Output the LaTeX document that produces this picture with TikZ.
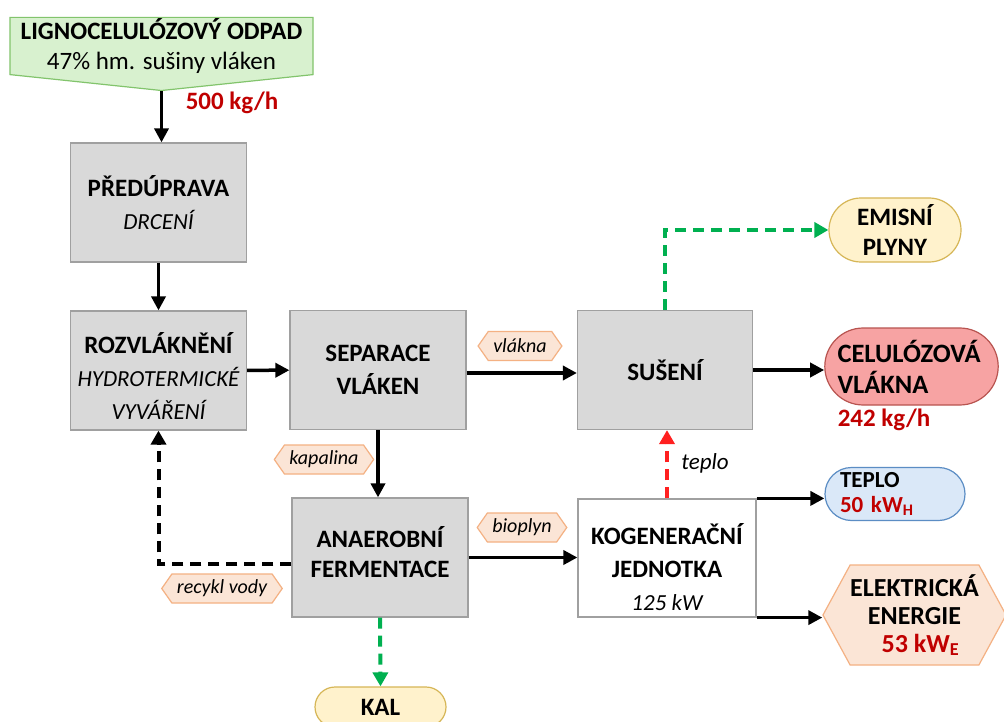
\documentclass[tikz,border=0pt]{standalone}
\usepackage{fontspec}
\setmainfont{Carlito}
\usetikzlibrary{shapes.misc,shapes.symbols,arrows.meta}
\definecolor{boxfill}{HTML}{D9D9D9}
\definecolor{boxdraw}{HTML}{A0A0A0}
\definecolor{srcfill}{HTML}{D8F1CF}
\definecolor{srcdraw}{HTML}{82C46C}
\definecolor{yelfill}{HTML}{FFF2CC}
\definecolor{yeldraw}{HTML}{D6B656}
\definecolor{redfill}{HTML}{F7A3A3}
\definecolor{reddraw}{HTML}{B85450}
\definecolor{bluefill}{HTML}{DAE8F8}
\definecolor{bluedraw}{HTML}{5B8DC4}
\definecolor{peachfill}{HTML}{FBE5D6}
\definecolor{peachdraw}{HTML}{F4B183}
\definecolor{valred}{HTML}{C00000}
\definecolor{greenarr}{HTML}{00B050}
\definecolor{redarr}{HTML}{FF2020}
\begin{document}
\begin{tikzpicture}[x=1pt,y=-1pt,
  proc/.style={rectangle,draw=boxdraw,line width=1.2pt,fill=boxfill,
    minimum width=176pt,minimum height=119pt,align=center,inner sep=0pt,
    font=\bfseries\fontsize{25}{33}\selectfont},
  term/.style={rounded rectangle,line width=1.2pt,inner sep=2pt,
    font=\bfseries\fontsize{25}{30}\selectfont},
  lbl/.style={signal,signal to=west and east,signal pointer angle=110,
    draw=peachdraw,fill=peachfill,line width=1.2pt,minimum height=29pt,
    inner xsep=5pt,inner ysep=1pt,font=\itshape\fontsize{20}{23}\selectfont},
  arr/.style={line width=3.5pt,-{Triangle[length=14pt,width=14pt]}},
  darr/.style={line width=4pt,dash pattern=on 11pt off 7pt,
    -{Triangle[length=14pt,width=15pt]}},
  val/.style={text=valred,font=\bfseries\fontsize{25}{30}\selectfont}]
\useasboundingbox[fill=white] (0,0) rectangle (1004,722);

% source
\node[signal,signal to=south,signal from=nowhere,signal pointer angle=168,
  draw=srcdraw,fill=srcfill,line width=1.2pt,minimum width=303pt,minimum height=72pt,
  align=center,inner sep=0pt,font=\fontsize{25}{30}\selectfont]
  (src) at (161.5,46) {\textbf{LIGNOCELULÓZOVÝ ODPAD}\\47\% hm. sušiny vláken};

% process boxes
\node[proc] (pred) at (158.5,202.5) {PŘEDÚPRAVA\\{\mdseries\itshape\fontsize{23}{33}\selectfont DRCENÍ}};
\node[proc] (rozv) at (158.5,370.5) {\rule{0pt}{32pt}ROZVLÁKNĚNÍ\\{\mdseries\itshape\fontsize{23}{30}\selectfont HYDROTERMICKÉ}\\{\mdseries\itshape\fontsize{23}{30}\selectfont VYVÁŘENÍ}};
\node[proc] (sep) at (378,370) {SEPARACE\\VLÁKEN};
\node[proc,minimum width=175pt] (sus) at (665,370) {SUŠENÍ};
\node[proc,font=\bfseries\fontsize{25}{30}\selectfont] (ana) at (380,557.5) {ANAEROBNÍ\\FERMENTACE\rule[-12pt]{0pt}{0pt}};
\node[proc,fill=white,minimum width=178pt,minimum height=118pt] (kog) at (667,558)
  {\rule{0pt}{40pt}KOGENERAČNÍ\\JEDNOTKA\\{\mdseries\itshape\fontsize{23}{31}\selectfont 125 kW}};

% terminals
\node[term,draw=yeldraw,fill=yelfill,minimum width=136pt,minimum height=64pt,align=center]
  (emis) at (895,230) {EMISNÍ\\PLYNY};
\node[term,draw=reddraw,fill=redfill,minimum width=173pt,minimum height=77pt,
  text width=148pt,align=left,font=\bfseries\fontsize{26.5}{31}\selectfont]
  (cel) at (911.5,366.5) {CELULÓZOVÁ\\VLÁKNA};
\node[term,draw=bluedraw,fill=bluefill,minimum width=144pt,minimum height=53pt,
  text width=110pt,align=left,font=\bfseries\fontsize{23}{25}\selectfont]
  (tep) at (895,494) {TEPLO\\{\color{valred}50 kW\textsubscript{H}}};
\node[signal,signal to=west and east,signal pointer angle=123,draw=peachdraw,fill=peachfill,
  line width=1.2pt,minimum width=183pt,minimum height=100pt,inner sep=0pt,align=center,
  font=\bfseries\fontsize{26}{28}\selectfont]
  (elek) at (914.5,615) {ELEKTRICKÁ\\ENERGIE\\\hspace*{12pt}{\color{valred}53 kW\textsubscript{E}}};
\node[term,draw=yeldraw,fill=yelfill,minimum width=135pt,minimum height=40pt]
  (kal) at (380.5,707) {KAL};

% flow labels
\node[lbl] (vl) at (520,346) {vlákna};
\node[lbl] (kap) at (324,459.5) {kapalina};
\node[lbl] (bio) at (522,527.5) {bioplyn};
\node[lbl] (rec) at (222,588.5) {recykl vody};
\node[val] (m500) at (232,103) {500 kg/h};
\node[val] (m242) at (884,420) {242 kg/h};
\node[font=\itshape\fontsize{23}{28}\selectfont] (tlab) at (705,463) {teplo};

% connectors
\draw[arr] (src.south) -- (src.south |- pred.north);
\draw[arr] (pred) -- (rozv);
\draw[arr] (rozv) -- (sep);
\draw[arr] ([yshift=-3pt]sep.east) -- ([yshift=-3pt]sep.east -| sus.west);
\draw[arr] (sus) -- (sus -| cel.west);
\draw[arr] (sep) -- (sep |- ana.north);
\draw[arr] (ana) -- (ana -| kog.west);
\draw[arr] (kog.north east) -- (kog.north east -| tep.west);
\draw[arr] (kog.south east) -- (kog.south east -| elek.west);
\draw[darr,greenarr] (sus.north) |- (emis.west);
\draw[darr,greenarr] (ana.south) -- (kal.north);
\draw[darr,redarr] (kog.north) -- (kog.north |- sus.south);
\draw[darr,black] ([yshift=-6pt]ana.west) -| (rozv.south);
\end{tikzpicture}
\end{document}
